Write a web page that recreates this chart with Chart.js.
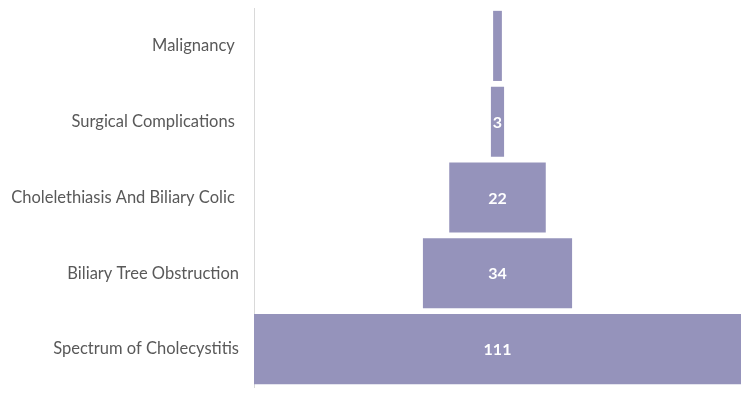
<!DOCTYPE html>
<html>
<head>
<meta charset="utf-8">
<script src="https://cdn.jsdelivr.net/npm/chart.js@4/dist/chart.umd.min.js"></script>
<style>
html,body{margin:0;padding:0;background:#fff;}
#wrap{width:750px;height:396px;position:relative;}
</style>
</head>
<body>
<div id="wrap"><canvas id="c" width="750" height="396"></canvas></div>
<script>
const categories = ["Malignancy ", "Surgical Complications ", "Cholelethiasis And Biliary Colic ", "Biliary Tree Obstruction", "Spectrum of Cholecystitis"];
const values = [2, 3, 22, 34, 111];
const showLabel = [false, true, true, true, true];

const maxVal = Math.max(...values);
const floating = values.map(v => [-v / 2, v / 2]);

const labelPlugin = {
  id: 'funnelLabels',
  afterDatasetsDraw(chart) {
    const ctx = chart.ctx;
    const meta = chart.getDatasetMeta(0);
    ctx.save();
    ctx.fillStyle = '#ffffff';
    ctx.font = 'bold 16px Lato, "Open Sans", sans-serif';
    ctx.textAlign = 'center';
    ctx.textBaseline = 'middle';
    meta.data.forEach((bar, i) => {
      if (!showLabel[i]) return;
      ctx.fillText(String(values[i]), bar.x - (bar.x - bar.base) / 2, bar.y + 1);
    });
    ctx.restore();
  }
};

new Chart(document.getElementById('c'), {
  type: 'bar',
  data: {
    labels: categories,
    datasets: [{
      data: floating,
      backgroundColor: '#9593bb',
      borderWidth: 0,
      barPercentage: 0.925,
      categoryPercentage: 1.0
    }]
  },
  options: {
    indexAxis: 'y',
    responsive: false,
    animation: false,
    layout: { padding: { left: 0, right: 9, top: 8, bottom: 9 } },
    plugins: { legend: { display: false }, tooltip: { enabled: false } },
    scales: {
      x: {
        display: false,
        min: -maxVal / 2,
        max: maxVal / 2
      },
      y: {
        afterFit(scale) { scale.width = 254; scale.paddingTop = 0; scale.paddingBottom = 0; },
        grid: { display: false, drawTicks: false },
        border: { display: true, color: '#d9d9d9', width: 1 },
        ticks: {
          padding: 15,
          color: '#595959',
          font: { family: 'Lato, "Open Sans", sans-serif', size: 16.5 }
        }
      }
    }
  },
  plugins: [labelPlugin]
});
</script>
</body>
</html>
